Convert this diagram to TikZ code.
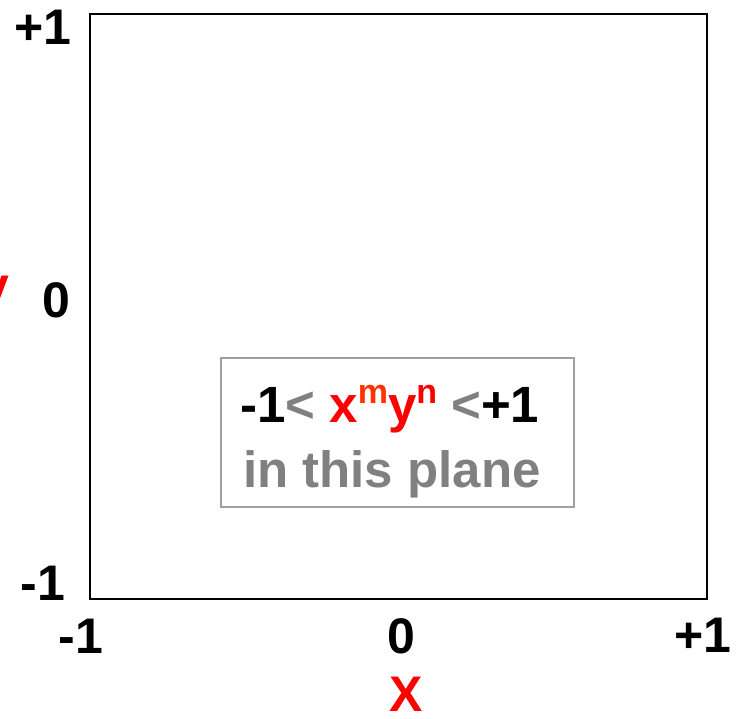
\documentclass[tikz,border=0pt]{standalone}
\usepackage{fontspec}
\setmainfont{Liberation Sans}
\usetikzlibrary{positioning}

\definecolor{axisred}{HTML}{FF0000}
\definecolor{supred}{HTML}{FF3300}
\definecolor{rulegray}{HTML}{808080}
\definecolor{boxgray}{HTML}{A0A0A0}

\newcommand{\raisedidx}[2]{\raisebox{19pt}{\fontsize{34}{36}\selectfont\color{#1}#2}}

\begin{document}
\begin{tikzpicture}[
  x=1pt, y=-1pt,
  tick/.style={
    font=\fontsize{50}{56}\selectfont\bfseries,
    inner sep=0pt
  },
  axis/.style={
    tick,
    text=axisred
  },
  frame/.style={
    draw,
    line width=2pt,
    minimum width=617pt,
    minimum height=585pt
  },
  rulebox/.style={
    draw=boxgray,
    line width=1.6pt,
    minimum width=353pt,
    minimum height=149pt
  },
  ruletext/.style={
    font=\fontsize{51}{58}\selectfont\bfseries,
    inner sep=0pt
  }
]

\useasboundingbox (0,0) rectangle (742,719);

% ------------------------------------------------------------
% Plane and its ticks
% ------------------------------------------------------------

\node[frame] (plane) at (398.5,306.5) {};

\node[tick, anchor=base] (ytop) at (43,45) {+1};
\node[tick, anchor=base] (ymid) at (56,318) {0};
\node[tick, anchor=base] (ybot) at (43,600) {-1};

\node[tick, anchor=base] (xleft) at (81,653) {-1};
\node[tick, anchor=base] (xmid) at (401,653) {0};
\node[tick, anchor=base] (xright) at (703,652) {+1};

% ------------------------------------------------------------
% Axis names
% ------------------------------------------------------------

\node[axis, anchor=base] (xname) at (406,711) {X};
\node[axis, anchor=base east] (yname) at (10,303) {y};

% ------------------------------------------------------------
% Bound on the monomial
% ------------------------------------------------------------

\node[rulebox] (bound) at (397.5,432.5) {};

\node[ruletext, anchor=base west] (ineq) at (240,422)
  {-1{\color{rulegray}<} {\color{axisred}x\raisedidx{supred}{m}y\raisedidx{axisred}{n}} {\color{rulegray}<}+1};
\node[ruletext, anchor=base west, text=rulegray] (where) at (243,487) {in this plane};

\end{tikzpicture}
\end{document}
